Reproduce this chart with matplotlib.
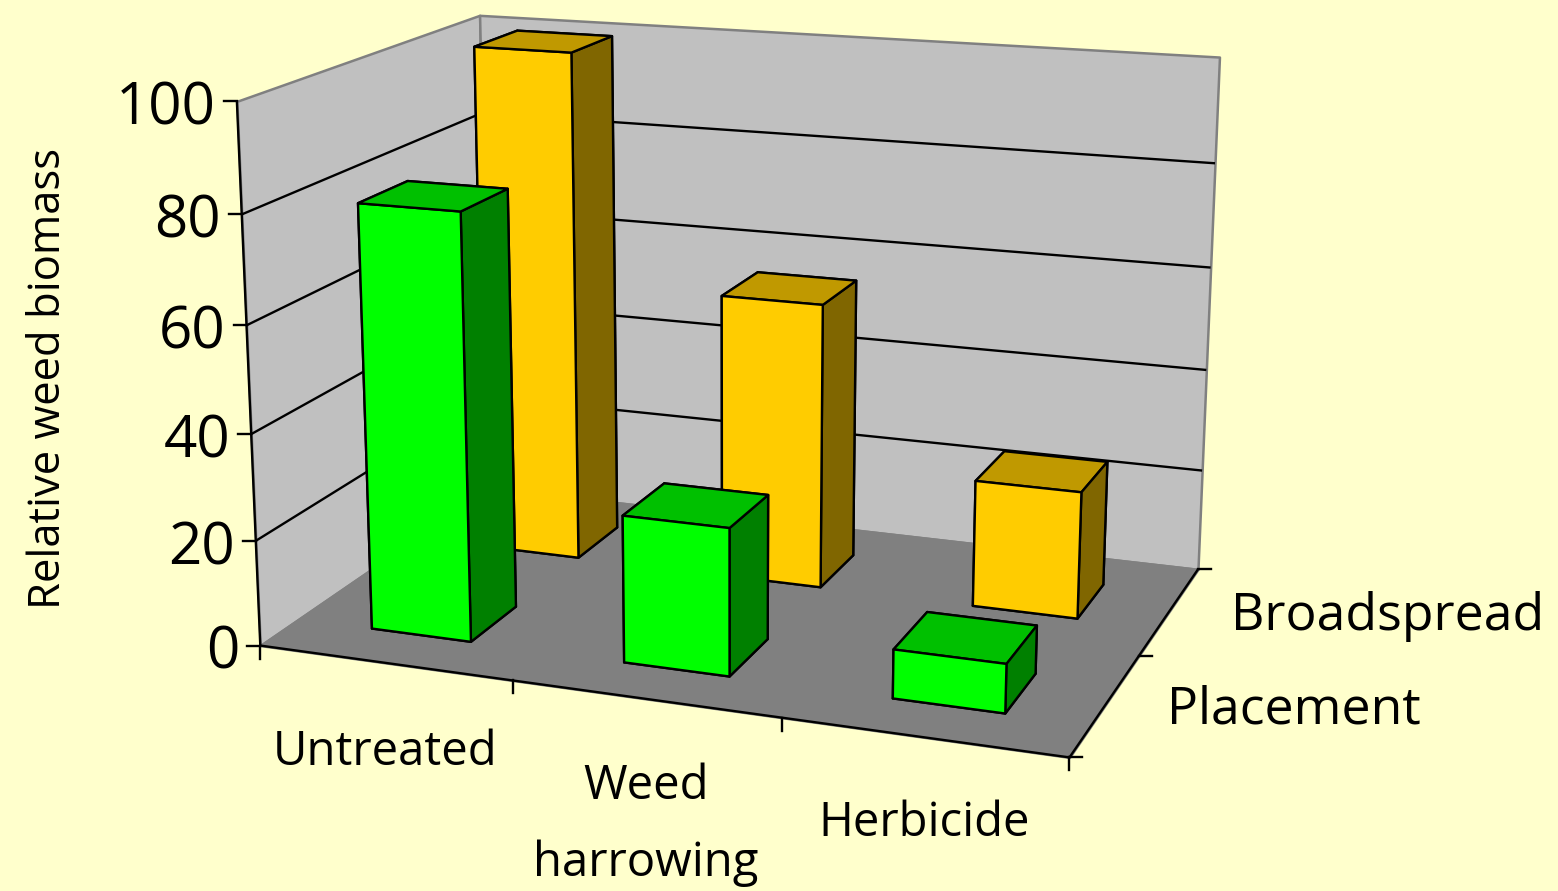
import numpy as np
import matplotlib
matplotlib.use("Agg")
import matplotlib.pyplot as plt
from mpl_toolkits.mplot3d import Axes3D
from mpl_toolkits.mplot3d.art3d import Poly3DCollection, Line3DCollection

categories = ["Untreated", "Weed\nharrowing", "Herbicide"]
series = ["Placement", "Broadspread"]
placement = [80, 27.5, 9]
broadspread = [100, 55.5, 24.5]
value_ticks = [0, 20, 40, 60, 80, 100]

W, H = 1558, 891
BG = "#FFFFCC"
WALL = "#C0C0C0"
FLOOR = "#808080"
# bottom, top, front, back, left, right
GREEN = ["#008000", "#00C000", "#00FF00", "#008000", "#008000", "#008000"]
YELLOW = ["#806600", "#C09900", "#FFCC00", "#806600", "#806600", "#806600"]

plt.rcParams['font.family'] = ['Open Sans', 'DejaVu Sans']

nx, ny, nz = len(categories), len(series), max(value_ticks)

# where corners of the axis box sit in the picture: (x, y, z) -> (px, py)
box_points = [
    ((0, 0, 0), (260, 645)), ((0, 0, 80), (241.7, 216)), ((0, 0, 100), (236.7, 100.7)),
    ((nx, 0, 0), (1070, 757)), ((nx, ny, 0), (1198, 570)), ((nx, ny, 80), (1214, 163)),
    ((nx, ny, 100), (1220, 57)), ((0, ny, 100), (480, 15)),
]

# camera matrix from the box corners
rows = []
for (x, y, z), (px, py) in box_points:
    py = H - py
    rows.append([x, y, z, 1, 0, 0, 0, 0, -px * x, -px * y, -px * z, -px])
    rows.append([0, 0, 0, 0, x, y, z, 1, -py * x, -py * y, -py * z, -py])
cam = np.linalg.svd(np.array(rows, dtype=float))[2][-1].reshape(3, 4)
cam = cam / (cam[2] @ [nx / 2, ny / 2, nz / 2, 1])


def to_fig(x, y, z):
    u, v, w = cam @ [x, y, z, 1]
    return u / w, v / w


fig = plt.figure(figsize=(W / 100, H / 100), dpi=100, facecolor=BG)
ax = fig.add_axes([0, 0, 1, 1], projection="3d")
ax.set_axis_off()
ax.patch.set_visible(False)
ax.computed_zorder = False
ax.apply_aspect = lambda position=None: None


def get_proj():
    a = ax.transData.inverted().get_affine().get_matrix()
    m = a @ cam
    depth = cam[2] - [0, 0, 0, 0.5]
    return np.array([m[0], m[1], depth, m[2]])


ax.get_proj = get_proj


def panel(corners, color, edge, zorder):
    p = Poly3DCollection([corners], facecolors=color, edgecolors=edge, linewidths=1.8,
                         zorder=zorder, clip_on=False)
    ax.add_collection3d(p)


panel([(0, 0, 0), (0, ny, 0), (0, ny, nz), (0, 0, nz)], WALL, FLOOR, 1)
panel([(0, ny, 0), (nx, ny, 0), (nx, ny, nz), (0, ny, nz)], WALL, FLOOR, 1)
panel([(0, 0, 0), (nx, 0, 0), (nx, ny, 0), (0, ny, 0)], FLOOR, FLOOR, 2)

# gridlines and axis lines
segments = []
for v in value_ticks[1:-1]:
    segments.append([(0, 0, v), (0, ny, v)])
    segments.append([(0, ny, v), (nx, ny, v)])
segments.append([(0, 0, 0), (0, 0, nz)])
segments.append([(0, 0, 0), (nx, 0, 0)])
segments.append([(nx, 0, 0), (nx, ny, 0)])
ax.add_collection3d(Line3DCollection(segments, colors="black", linewidths=1.7, zorder=3,
                                     clip_on=False))


def tick(x, y, z, dx, dy):
    px, py = to_fig(x, y, z)
    fig.add_artist(plt.Line2D([px / W, (px + dx) / W], [py / H, (py + dy) / H], color="black", lw=1.7))


for v in value_ticks:
    tick(0, 0, v, -13, 0)
for i in range(nx + 1):
    tick(i, 0, 0, 0, -13)
for j in range(ny + 1):
    tick(nx, j, 0, 13, 0)

for j, (values, colors) in reversed(list(enumerate([(placement, GREEN), (broadspread, YELLOW)]))):
    for i, v in enumerate(values):
        ax.bar3d(i + 0.3, j + 0.3, 0, 0.4, 0.4, v, color=colors, shade=False,
                 edgecolor="black", linewidth=1.7, zorder=5 + (1 - j), clip_on=False)

for v in value_ticks:
    px, py = to_fig(0, 0, v)
    fig.text((px - 21) / W, (py - 8) / H, str(v), ha="right", va="center", fontsize=42)

for i, name in enumerate(categories):
    px, py = to_fig(i + 0.5, 0, 0)
    fig.text((px + 1) / W, (py - [66, 64, 62][i]) / H, name, ha="center", va="top",
             fontsize=34, linespacing=1.8)

for j, name in enumerate(series):
    px, py = to_fig(nx, j + 0.5, 0)
    fig.text((px + 61) / W, (py - 6) / H, name, ha="left", va="center", fontsize=37.3)

fig.text(49 / W, 1 - 378 / H, "Relative weed biomass", rotation=90, ha="center",
         va="center", fontsize=31.4)

fig.savefig("out.png", dpi=100, facecolor=BG)
